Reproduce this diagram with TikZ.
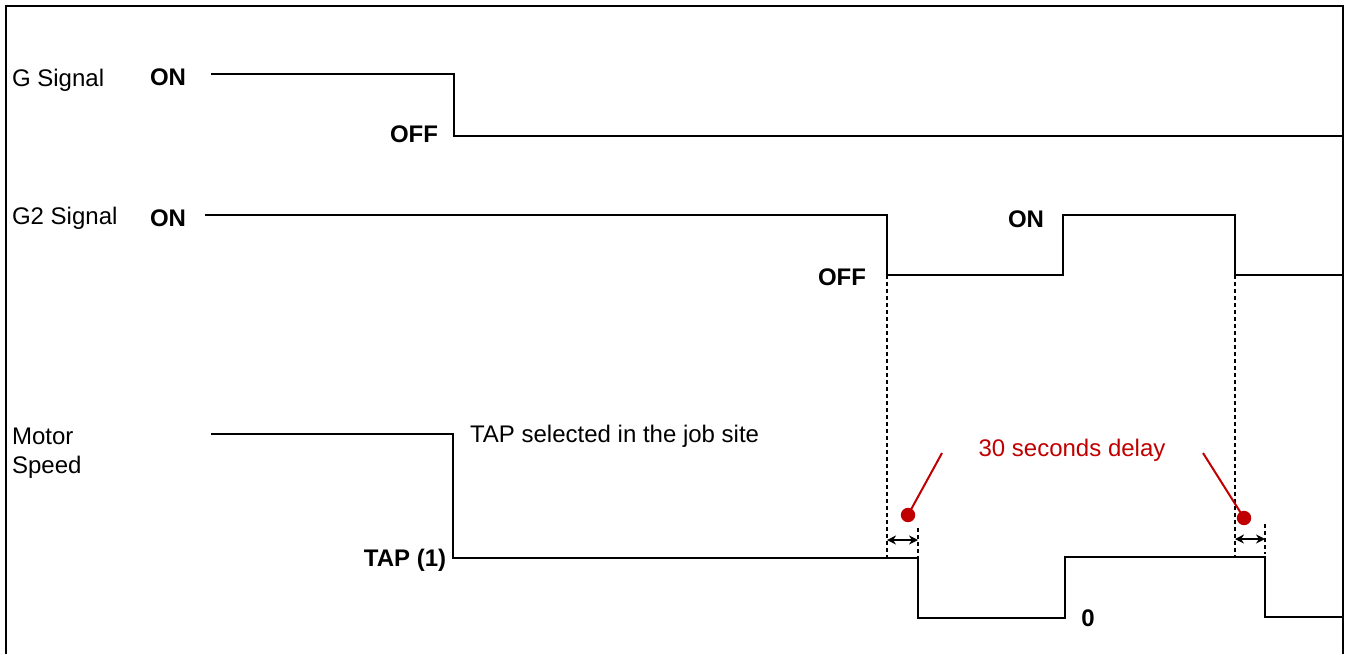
\documentclass[tikz,border=0pt]{standalone}
\usepackage{fontspec}
\setmainfont{Liberation Sans}
\usetikzlibrary{arrows.meta}
\definecolor{delayred}{RGB}{192,0,0}
\tikzset{
  signal/.style={line width=0.8pt},
  level/.style={font=\fontsize{12}{14.5}\selectfont\bfseries},
  guide/.style={line width=0.7pt,dash pattern=on 2pt off 1.5pt},
  pointer/.style={delayred,line width=1pt}
}
\begin{document}
\begin{tikzpicture}[x=0.5pt,y=-0.5pt,font=\fontsize{12}{14.5}\selectfont]
  \useasboundingbox (0,0) rectangle (1352,654);
  % frame
  \draw[line width=1.1pt] (6,654)--(6,6)--(1343,6)--(1343,654);
  % G signal
  \node[anchor=west] (gname) at (5,80) {G Signal};
  \node[level] (gon) at (168,77) {ON};
  \node[level] (goff) at (414,134) {OFF};
  \draw[signal] (211,74)--(454,74)--(454,136)--(1343,136);
  % G2 signal
  \node[anchor=west] (gtwoname) at (5,218) {G2 Signal};
  \node[level] (gtwoon) at (168,218) {ON};
  \node[level] (gtwooff) at (842,277) {OFF};
  \node[level] (gtwoonb) at (1026,219) {ON};
  \draw[signal] (205,215)--(887,215)--(887,275)--(1063,275)--(1063,215)--(1235,215)--(1235,275)--(1343,275);
  % motor speed
  \node[anchor=west,align=left] (mname) at (5,453) {Motor\\Speed};
  \node[level] (tap) at (405,560) {TAP (1)};
  \node[anchor=west] (tapnote) at (463,436) {TAP selected in the job site};
  \node[level] (zero) at (1088,618) {0};
  \draw[signal] (211,434)--(453,434)--(453,558)--(918,558)--(918,618)--(1065,618)--(1065,557)--(1265,557)--(1265,617)--(1343,617);
  % delay markers
  \draw[guide] (887,275)--(887,558);
  \draw[guide] (918,528)--(918,558);
  \draw[guide] (1235,275)--(1235,557);
  \draw[guide] (1265,524)--(1265,554);
  \coordinate (da) at (887,540);
  \coordinate (db) at (918,540);
  \coordinate (dc) at (1235,539);
  \coordinate (dd) at (1265,539);
  \draw[{Stealth[length=4.5pt,width=4.5pt]}-{Stealth[length=4.5pt,width=4.5pt]},line width=0.8pt] (da)--(db);
  \draw[{Stealth[length=4.5pt,width=4.5pt]}-{Stealth[length=4.5pt,width=4.5pt]},line width=0.8pt] (dc)--(dd);
  \node[delayred] (delay) at (1072,450) {30 seconds delay};
  \coordinate (pa) at (908,515);
  \coordinate (pb) at (1244,518);
  \draw[pointer] (942,453)--(pa);
  \draw[pointer] (1203,453)--(pb);
  \foreach \p in {pa,pb} \fill[delayred] (\p) circle (3.6pt);
\end{tikzpicture}
\end{document}
